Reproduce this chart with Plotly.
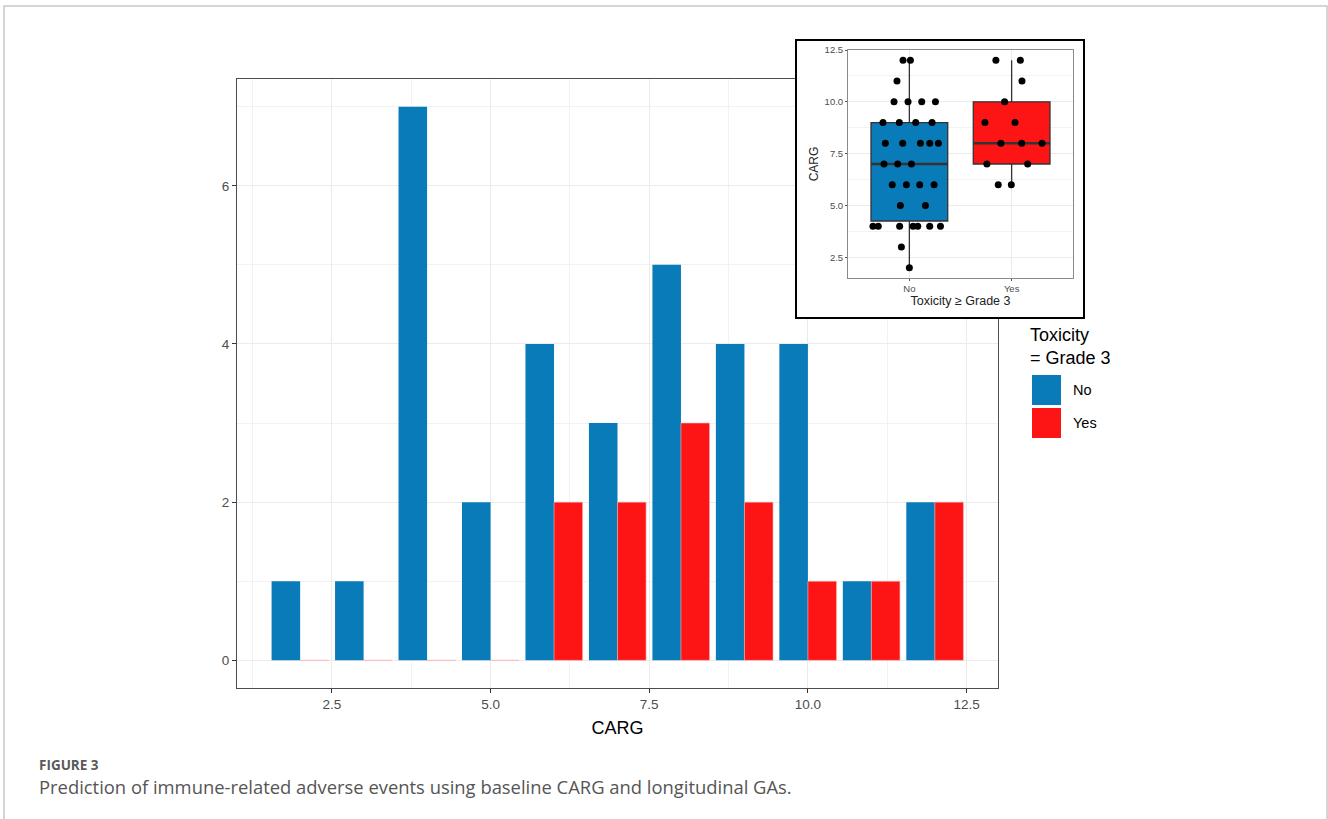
import plotly.graph_objects as go

# ---------------- data ----------------
carg = [2, 3, 4, 5, 6, 7, 8, 9, 10, 11, 12]
count_no = [1, 1, 7, 2, 4, 3, 5, 4, 4, 1, 2]
count_yes = [0, 0, 0, 0, 2, 2, 3, 2, 1, 1, 2]

groups = ["No", "Yes"]
box_q1 = [4.25, 7]
box_median = [7, 8]
box_q3 = [9, 10]
box_low = [2, 6]
box_high = [12, 12]

no_y = [2, 3, 4, 4, 4, 4, 4, 4, 4, 5, 5, 6, 6, 6, 6, 7, 7, 7,
        8, 8, 8, 8, 8, 9, 9, 9, 9, 10, 10, 10, 10, 11, 12, 12]
no_dx = [0.0, -0.078, -0.356, -0.304, -0.095, 0.036, 0.082, 0.199, 0.304,
         -0.088, 0.157, -0.167, -0.029, 0.101, 0.242, -0.248, -0.114, 0.020,
         -0.235, -0.065, 0.108, 0.199, 0.284, -0.258, -0.098, 0.062, 0.222,
         -0.150, -0.013, 0.121, 0.255, -0.121, -0.062, 0.010]
yes_y = [6, 6, 7, 7, 8, 8, 8, 9, 9, 10, 11, 12, 12]
yes_dx = [-0.131, -0.003, -0.242, 0.157, -0.105, 0.098, 0.297, -0.261, 0.033,
          -0.069, 0.101, -0.154, 0.085]

main_xticks = [2.5, 5.0, 7.5, 10.0, 12.5]
main_xticktext = ["2.5", "5.0", "7.5", "10.0", "12.5"]
main_yticks = [0, 2, 4, 6]
inset_yticks = [2.5, 5.0, 7.5, 10.0, 12.5]
inset_yticktext = ["2.5", "5.0", "7.5", "10.0", "12.5"]

BLUE = "#0a7bb9"
RED = "#fd1414"

W, H = 1328, 819


def px(x):
    return x / W


def py(y):
    return 1 - y / H


fig = go.Figure()

# ---------------- main histogram ----------------
fig.add_trace(go.Bar(x=carg, y=count_no, name="No", marker=dict(color=BLUE, line=dict(width=0)),
                     xaxis="x", yaxis="y", showlegend=False))
fig.add_trace(go.Bar(x=carg, y=count_yes, name="Yes", marker=dict(color=RED, line=dict(color="#f6b3b3", width=0.6)),
                     xaxis="x", yaxis="y", showlegend=False))

# blank subplot acting as inset background
fig.add_trace(go.Scatter(x=[None], y=[None], xaxis="x2", yaxis="y2", showlegend=False, hoverinfo="skip"))

# ---------------- inset boxplot ----------------
for i, (g, col) in enumerate(zip(groups, [BLUE, RED])):
    fig.add_trace(go.Box(
        x=[i + 1], q1=[box_q1[i]], median=[box_median[i]], q3=[box_q3[i]],
        lowerfence=[box_low[i]], upperfence=[box_high[i]],
        width=0.75, whiskerwidth=0, boxpoints=False,
        fillcolor=col, line=dict(color="#333333", width=1.3),
        xaxis="x3", yaxis="y3", showlegend=False, name=g))
    # thicker median line
    fig.add_trace(go.Scatter(
        x=[i + 1 - 0.375, i + 1 + 0.375], y=[box_median[i], box_median[i]],
        mode="lines", line=dict(color="#333333", width=2.4),
        xaxis="x3", yaxis="y3", showlegend=False, hoverinfo="skip"))

fig.add_trace(go.Scatter(x=[1 + d for d in no_dx], y=no_y, mode="markers",
                         marker=dict(color="black", size=7), xaxis="x3", yaxis="y3", showlegend=False))
fig.add_trace(go.Scatter(x=[2 + d for d in yes_dx], y=yes_y, mode="markers",
                         marker=dict(color="black", size=7), xaxis="x3", yaxis="y3", showlegend=False))

axis_font = dict(family="Liberation Sans, Arial, sans-serif", size=13.5, color="#4d4d4d")
inset_font = dict(family="Liberation Sans, Arial, sans-serif", size=9.5, color="#4d4d4d")

fig.update_layout(
    width=W, height=H,
    margin=dict(l=0, r=0, t=0, b=0),
    paper_bgcolor="white", plot_bgcolor="white",
    barmode="group", bargap=0.1, bargroupgap=0,
    font=dict(family="Liberation Sans, Arial, sans-serif"),
    xaxis=dict(
        domain=[px(237), px(998)], anchor="y", range=[1.005, 12.995],
        tickvals=main_xticks, ticktext=main_xticktext, tickfont=axis_font,
        ticks="outside", ticklen=4, tickcolor="#333333", tickwidth=1,
        showgrid=True, gridcolor="#ebebeb", gridwidth=1.2, zeroline=False,
        minor=dict(tickvals=[1.25, 3.75, 6.25, 8.75, 11.25], showgrid=True,
                   gridcolor="#f2f2f2", gridwidth=0.8, ticks=""),
        showline=True, mirror=True, linecolor="#4d4d4d", linewidth=1,
        title=dict(text="CARG", font=dict(size=18, color="black"), standoff=10),
        automargin=False,
    ),
    yaxis=dict(
        domain=[py(688), py(79)], anchor="x", range=[-0.35, 7.35],
        tickvals=main_yticks, tickfont=axis_font,
        ticks="outside", ticklen=4, tickcolor="#333333", tickwidth=1,
        showgrid=True, gridcolor="#ebebeb", gridwidth=1.2, zeroline=False,
        minor=dict(tickvals=[1, 3, 5, 7], showgrid=True, gridcolor="#f2f2f2", gridwidth=0.8, ticks=""),
        showline=True, mirror=True, linecolor="#4d4d4d", linewidth=1,
        automargin=False,
    ),
    xaxis2=dict(domain=[px(796), px(1084)], anchor="y2", range=[0, 1], showgrid=False,
                zeroline=False, showticklabels=False, ticks="", showline=False, fixedrange=True),
    yaxis2=dict(domain=[py(318), py(40)], anchor="x2", range=[0, 1], showgrid=False,
                zeroline=False, showticklabels=False, ticks="", showline=False, fixedrange=True),
    xaxis3=dict(
        domain=[px(848), px(1073)], anchor="y3", range=[0.4, 2.6],
        tickvals=[1, 2], ticktext=groups, tickfont=inset_font,
        ticks="outside", ticklen=2, tickcolor="#555555",
        showgrid=True, gridcolor="#ebebeb", gridwidth=1, zeroline=False,
        showline=True, mirror=True, linecolor="#8a8a8a", linewidth=1,
        title=dict(text="Toxicity ≥ Grade 3", font=dict(size=12.5, color="#222222"), standoff=2),
        automargin=False,
    ),
    yaxis3=dict(
        domain=[py(278), py(50)], anchor="x3", range=[1.5, 12.5],
        tickvals=inset_yticks, ticktext=inset_yticktext, tickfont=inset_font,
        ticks="outside", ticklen=2, tickcolor="#555555",
        showgrid=True, gridcolor="#ebebeb", gridwidth=1, zeroline=False,
        minor=dict(tickvals=[3.75, 6.25, 8.75, 11.25], showgrid=True, gridcolor="#f3f3f3", gridwidth=0.7, ticks=""),
        showline=True, mirror=True, linecolor="#8a8a8a", linewidth=1,
        title=dict(text="CARG", font=dict(size=12, color="#222222"), standoff=3),
        automargin=False,
    ),
)

shapes = [
    # page frame
    dict(type="rect", xref="paper", yref="paper", x0=px(4), x1=px(1327), y0=py(830), y1=py(6),
         line=dict(color="#c8c8c8", width=1.5), fillcolor="rgba(0,0,0,0)", layer="above"),
    # inset frame
    dict(type="rect", xref="paper", yref="paper", x0=px(796), x1=px(1084), y0=py(318), y1=py(40),
         line=dict(color="black", width=2), fillcolor="rgba(0,0,0,0)", layer="above"),
    # legend keys
    dict(type="rect", xref="paper", yref="paper", x0=px(1032), x1=px(1061), y0=py(405), y1=py(375),
         line=dict(width=0), fillcolor=BLUE),
    dict(type="rect", xref="paper", yref="paper", x0=px(1032), x1=px(1061), y0=py(438), y1=py(408),
         line=dict(width=0), fillcolor=RED),
]

leg_font = dict(family="Liberation Sans, Arial, sans-serif", color="black")
annotations = [
    dict(text="Toxicity<br>= Grade 3", xref="paper", yref="paper", x=px(1028), y=py(346),
         xanchor="left", yanchor="middle", align="left", showarrow=False,
         font=dict(size=18, **leg_font)),
    dict(text="No", xref="paper", yref="paper", x=px(1071), y=py(390), xanchor="left", yanchor="middle",
         showarrow=False, font=dict(size=14.5, **leg_font)),
    dict(text="Yes", xref="paper", yref="paper", x=px(1071), y=py(423), xanchor="left", yanchor="middle",
         showarrow=False, font=dict(size=14.5, **leg_font)),
    dict(text="<b>FIGURE 3</b>", xref="paper", yref="paper", x=px(37), y=py(765), xanchor="left", yanchor="middle",
         showarrow=False, font=dict(family="Open Sans, sans-serif", size=13.5, color="#5a5a5a")),
    dict(text="Prediction of immune-related adverse events using baseline CARG and longitudinal GAs.",
         xref="paper", yref="paper", x=px(37), y=py(786), xanchor="left", yanchor="middle",
         showarrow=False, font=dict(family="Open Sans, sans-serif", size=18.4, color="#555555")),
]

fig.update_layout(shapes=shapes, annotations=annotations)

fig.write_html("out.html", config={"displayModeBar": False},
               post_script="document.body.style.margin='0';document.body.style.overflow='hidden';")
